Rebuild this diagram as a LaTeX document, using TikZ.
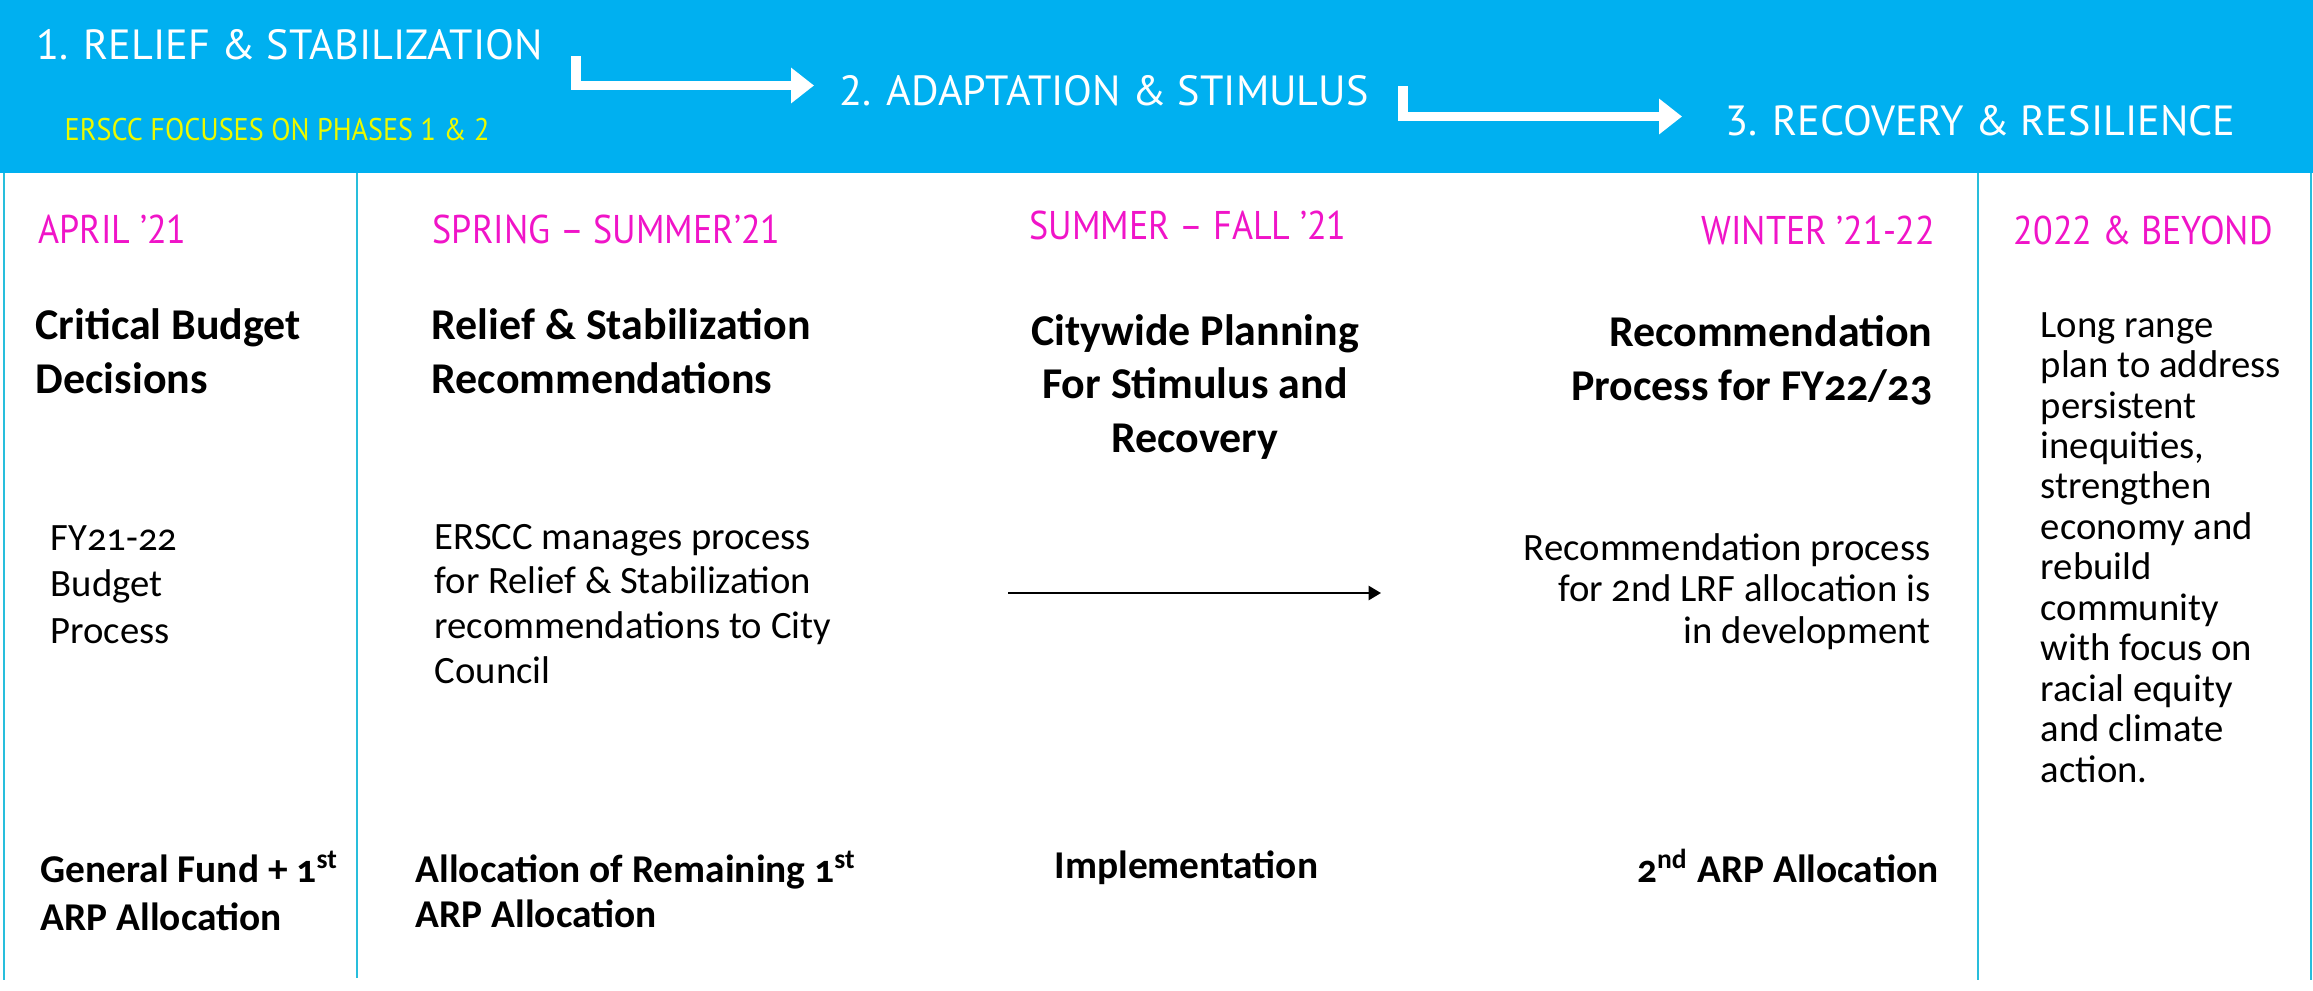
\documentclass[tikz,border=0pt]{standalone}
\usepackage{fontspec}
\setmainfont[Numbers=OldStyle]{Carlito}
\newfontfamily\dinfont[FakeStretch=0.9]{PT Sans}
\newfontfamily\dinwide{PT Sans}
\usetikzlibrary{arrows.meta}
\definecolor{bannerblue}{RGB}{0,176,240}
\definecolor{rulecyan}{RGB}{40,190,220}
\definecolor{periodpink}{RGB}{240,20,200}
\definecolor{focusyellow}{RGB}{235,250,0}

\begin{document}
\begin{tikzpicture}[x=0.01cm,y=-0.01cm]
	\tikzset{phase/.style={inner sep=0pt, anchor=base west, text=white, font=\dinwide\fontsize{12pt}{14pt}\selectfont}}
	\tikzset{focus/.style={inner sep=0pt, anchor=base west, text=focusyellow, font=\dinfont\fontsize{8.9pt}{10pt}\selectfont}}
	\tikzset{period/.style={inner sep=0pt, anchor=base west, text=periodpink, font=\dinfont\fontsize{11.4pt}{13pt}\selectfont}}
	\tikzset{title/.style={inner sep=0pt, anchor=base west, align=left, font=\bfseries\fontsize{12.5pt}{15.1pt}\selectfont}}
	\tikzset{body/.style={inner sep=0pt, anchor=base west, align=left, font=\fontsize{11pt}{#1}\selectfont}, body/.default=12.7pt}
	\tikzset{alloc/.style={inner sep=0pt, anchor=base west, align=left, font=\bfseries\fontsize{11.2pt}{#1}\selectfont}, alloc/.default=13.2pt}
	\tikzset{divider/.style={rulecyan, line width=0.6pt}}
	\tikzset{phasearrow/.style={white, line width=2.6pt, -{Triangle[width=9.7pt,length=6.5pt]}}}
	\tikzset{flowarrow/.style={black, line width=0.6pt, -{Triangle[width=4pt,length=3.5pt]}}}
	
	\useasboundingbox (0,0) rectangle (2313,990);
	\fill[bannerblue] (0,0) rectangle (2313,173);
	
	\draw[divider] (4,173) -- (4,980);
	\draw[divider] (357,173) -- (357,978);
	\draw[divider] (1978,173) -- (1978,980);
	\draw[divider] (2311,173) -- (2311,980);
	
	% phases
	\node(p1) at (36,59) [phase] {1. RELIEF \& STABILIZATION};
	\node(p2) at (839,105) [phase] {2. ADAPTATION \& STIMULUS};
	\node(p3) at (1725,135) [phase] {3. RECOVERY \& RESILIENCE};
	\node(focus) at (64,140) [focus] {ERSCC FOCUSES ON PHASES 1 \& 2};
	
	\coordinate(a1s) at (576,56);
	\coordinate(a1e) at (814,85.5);
	\coordinate(a2s) at (1403,86);
	\coordinate(a2e) at (1682,116.5);
	\draw[phasearrow] (a1s) |- (a1e);
	\draw[phasearrow] (a2s) |- (a2e);
	
	% periods
	\node(apr) at (38,243) [period] {APRIL ’21};
	\node(spr) at (432,243) [period] {SPRING – SUMMER’21};
	\node(sum) at (1029,239) [period] {SUMMER – FALL ’21};
	\node(win) at (1936,244) [period, anchor=base east] {WINTER ’21-22};
	\node(bey) at (2013,244) [period] {2022 \& BEYOND};
	
	% base of a multi-line node is its last line
	\node(t1) at (35,393) [title] {Critical Budget\\Decisions};
	\node(t2) at (431,393) [title] {Relief \& Stabilization\\Recommendations};
	\node(t3) at (1195,452) [title, align=center, anchor=base] {Citywide Planning\\For Stimulus and\\Recovery};
	\node(t4) at (1933,400) [title, align=right, anchor=base east] {Recommendation\\Process for FY22/23};
	
	\node(b1) at (50,643) [body=13.1pt] {FY21-22\\Budget\\Process};
	\node(b2) at (434,683) [body] {ERSCC manages process\\for Relief \& Stabilization\\recommendations to City\\Council};
	\node(b4) at (1931,643) [body=11.7pt, align=right, anchor=base east] {Recommendation process\\for 2nd LRF allocation is\\in development};
	\node(b5) at (2040,782) [body=11.5pt] {Long range\\plan to address\\persistent\\inequities,\\strengthen\\economy and\\rebuild\\community\\with focus on\\racial equity\\and climate\\action.};
	
	\coordinate(f1) at (1008,593);
	\coordinate(f2) at (1381,593);
	\draw[flowarrow] (f1) -- (f2);
	
	\node(g1) at (40,930) [alloc=13.4pt] {General Fund + 1\textsuperscript{st}\\ARP Allocation};
	\node(g2) at (415,927) [alloc=12.8pt] {Allocation of Remaining 1\textsuperscript{st}\\ARP Allocation};
	\node(g3) at (1054,878) [alloc] {Implementation};
	\node(g4) at (1939,882) [alloc, anchor=base east] {2\textsuperscript{nd} ARP Allocation};
	
\end{tikzpicture}
\end{document}
